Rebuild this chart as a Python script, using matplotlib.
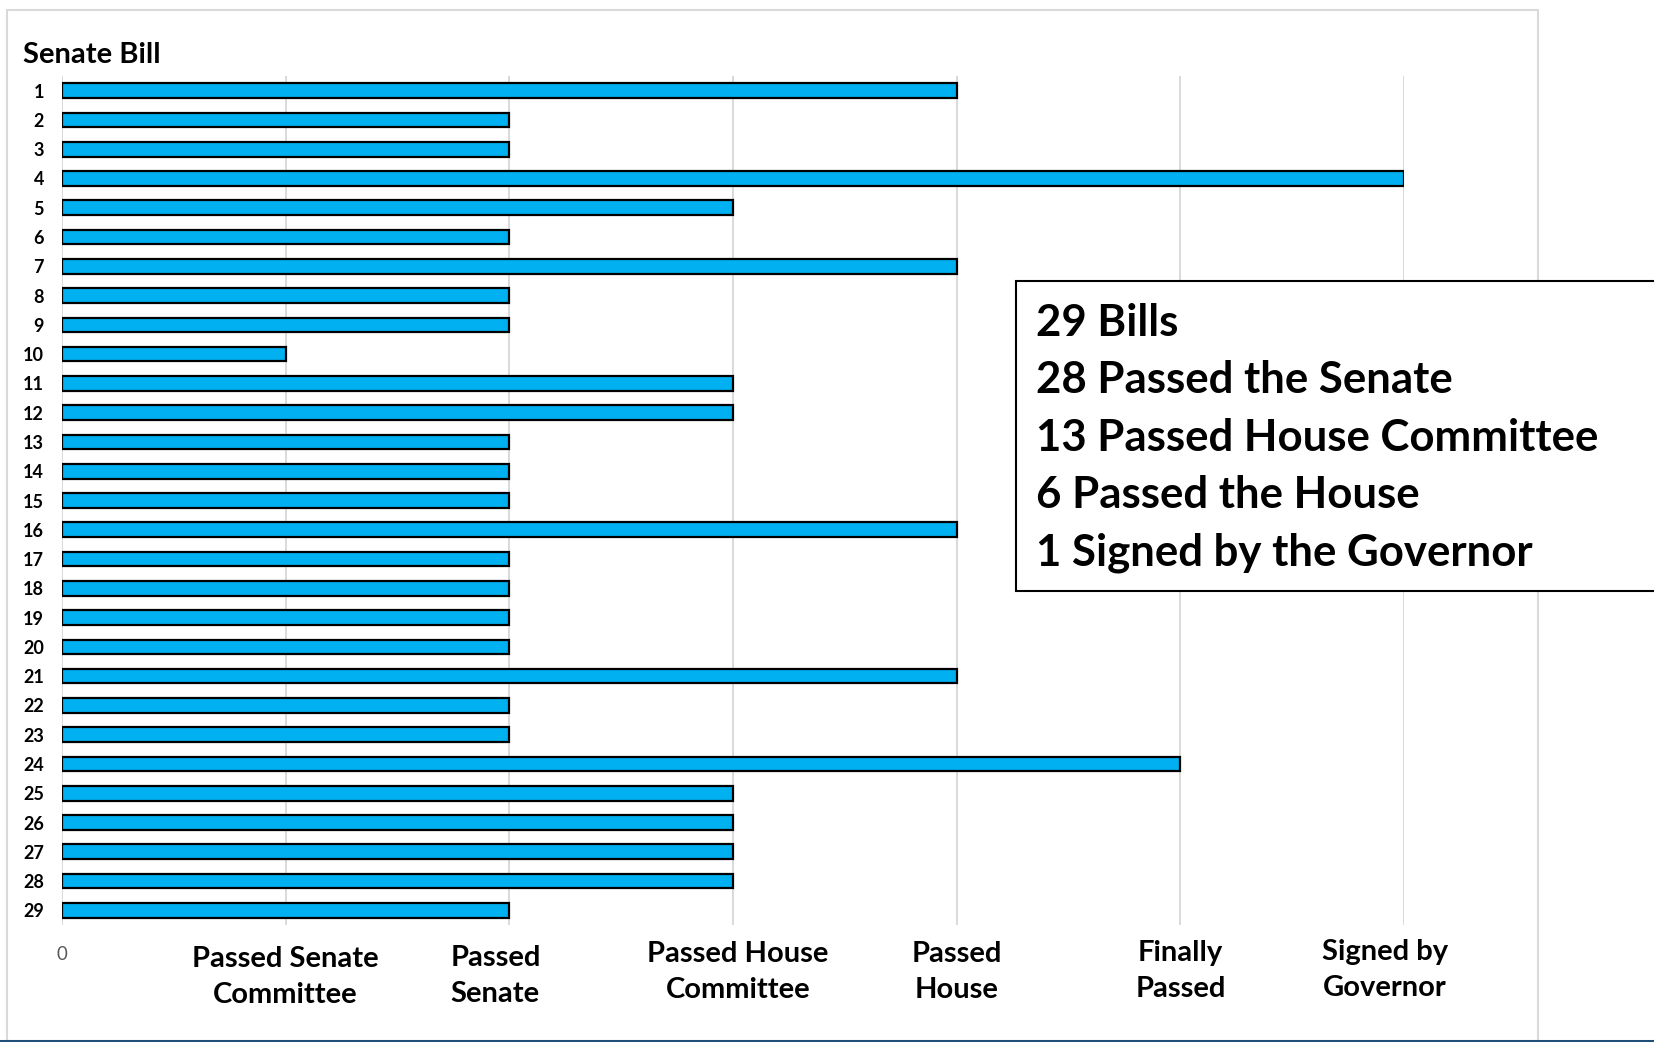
import matplotlib
matplotlib.use('Agg')
import matplotlib.pyplot as plt
import matplotlib.transforms as mtransforms
from matplotlib.patches import Rectangle
from matplotlib.lines import Line2D

plt.rcParams['font.family'] = ['Lato', 'DejaVu Sans']

# furthest stage reached by each senate bill (0 = introduced ... 6 = signed)
bills = [str(i) for i in range(1, 30)]
stages = [4, 2, 2, 6, 3, 2, 4, 2, 2, 1,
          3, 3, 2, 2, 2, 4, 2, 2, 2, 2,
          4, 2, 2, 5, 3, 3, 3, 3, 2]
stage_labels = ['0', 'Passed Senate\nCommittee', 'Passed\nSenate',
                'Passed House\nCommittee', 'Passed\nHouse',
                'Finally\nPassed', 'Signed by\nGovernor']

summary = [
    f'{len(stages)} Bills',
    f'{sum(s >= 2 for s in stages)} Passed the Senate',
    f'{sum(s >= 3 for s in stages)} Passed House Committee',
    f'{sum(s >= 4 for s in stages)} Passed the House',
    f'{sum(s >= 6 for s in stages)} Signed by the Governor',
]

# small nudges (pixels) for the stage labels under the axis
label_dx = [0, 0, -14, 5, 0, 0, -19]
label_dy = [0, 0, 1, 5, 5, 6, 7]

W, H = 1654, 1042
fig = plt.figure(figsize=(W / 100, H / 100), dpi=100)

# chart frame and bottom rule
fig.add_artist(Rectangle((7 / W, 1 - 1041 / H), (1538 - 7) / W, (1041 - 10) / H,
                         transform=fig.transFigure, fill=False,
                         edgecolor='#d9d9d9', linewidth=1.5))
fig.add_artist(Line2D([0, 1], [1 - 1040.5 / H] * 2, transform=fig.transFigure,
                      color='#1f4e79', linewidth=2.2))

ax = fig.add_axes([62 / W, 1 - 925 / H, 1342 / W, 849 / H])
ypos = range(len(stages))
ax.barh(ypos, stages, height=0.5, color='#00b0f0', edgecolor='black',
        linewidth=1.6, zorder=3)

ax.set_xlim(0, 6)
ax.set_ylim(len(stages) - 0.5, -0.5)
ax.set_yticks(list(ypos))
ax.set_yticklabels(bills, fontsize=13, fontweight='bold')
ax.set_xticks(range(len(stage_labels)))
ax.set_xticklabels(stage_labels, fontsize=21, fontweight='bold', linespacing=1.5)
ax.tick_params(length=0)
ax.tick_params(axis='y', pad=13)
ax.tick_params(axis='x', pad=15)

ax.xaxis.grid(True, color='#d9d9d9', linewidth=1.4)
ax.set_axisbelow(True)
for sp in ax.spines.values():
    sp.set_visible(False)

zero = ax.get_xticklabels()[0]
zero.set_fontweight('normal')
zero.set_fontsize(13.5)
zero.set_color('#595959')
for lbl, dx, dy in zip(ax.get_xticklabels(), label_dx, label_dy):
    off = mtransforms.ScaledTranslation(dx / 100, dy / 100, fig.dpi_scale_trans)
    lbl.set_transform(lbl.get_transform() + off)

fig.text(23 / W, 1 - 55 / H, 'Senate Bill', fontsize=21, fontweight='bold',
         va='center', ha='left')

# summary box running off the right edge
fig.add_artist(Rectangle((1016 / W, 1 - 591 / H), (1700 - 1016) / W, (591 - 281) / H,
                         transform=fig.transFigure, facecolor='white',
                         edgecolor='black', linewidth=1.5, clip_on=False, zorder=5))
fig.text(1036 / W, 1 - 303 / H, '\n'.join(summary), fontsize=31.5, fontweight='bold',
         va='top', ha='left', linespacing=1.53, zorder=6)

fig.savefig('out.png', dpi=100)
